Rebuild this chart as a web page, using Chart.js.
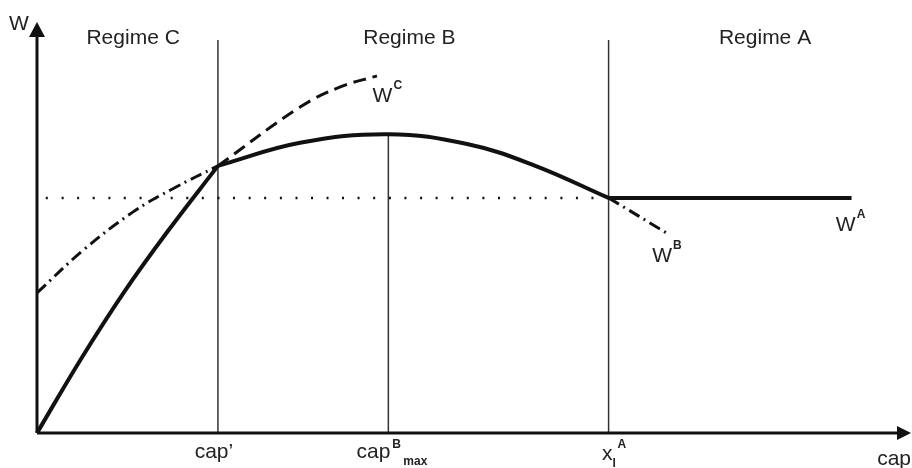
<!DOCTYPE html>
<html>
<head>
<meta charset="utf-8">
<script src="https://cdn.jsdelivr.net/npm/chart.js@4/dist/chart.umd.min.js"></script>
<style>
  body { margin: 0; background: #fff; }
  canvas { display: block; }
</style>
</head>
<body>
<canvas id="myChart" width="912" height="468"></canvas>
<script>
// Axis units: x runs 0..100 (cap), y runs 0..100 (W)
const capPrime = 20.7;
const capBmax = 40.2;
const xlA = 65.4;
const regimeTop = 95.6;
const flatLevel = 57.2;

// Solid envelope W, piece by piece
const wCx = [0, 5, 10, 15, 20.7];
const wCy = [0, 17.9, 34.4, 49.2, 65.0];
const wBx = [20.7, 30.1, 40.2, 49.2, 56.8, 65.4];
const wBy = [65.0, 70.6, 72.7, 70.3, 65.2, 57.2];
const wAx = [65.4, 93.2];
const wAy = [57.2, 57.2];

// Dashed W^C continuation
const wcx = [20.7, 30.1, 34.7, 38.9];
const wcy = [65.0, 79.3, 84.2, 86.9];

// Dash-dot W^B, left and right parts
const wbLx = [0, 5.3, 11.0, 15.6, 20.7];
const wbLy = [34.1, 44.5, 53.8, 59.5, 65.0];
const wbRx = [65.4, 72.4];
const wbRy = [57.2, 48.2];

// Text labels
const regimeNames = ['Regime C', 'Regime B', 'Regime A'];
const regimeLabelX = [11.0, 42.6, 83.3];

function pts(xs, ys) {
    return xs.map((x, i) => ({ x: x, y: ys[i] }));
}

function line(data, width, dash, color) {
    return {
        data: data,
        showLine: true,
        borderColor: color || '#111',
        borderWidth: width,
        borderDash: dash || [],
        pointRadius: 0,
        tension: 0.4,
        clip: false,
        fill: false
    };
}

const TEXT = '#222';
const FONT = '"Liberation Sans", Arial, sans-serif';

// Draws the arrow axes and all the text
const decorations = {
    id: 'decorations',
    afterDatasetsDraw(chart) {
        const ctx = chart.ctx;
        const xs = chart.scales.x;
        const ys = chart.scales.y;
        const x0 = xs.getPixelForValue(0);
        const y0 = ys.getPixelForValue(0);
        const right = chart.chartArea.right;
        const top = chart.chartArea.top;

        ctx.save();
        ctx.strokeStyle = '#111';
        ctx.fillStyle = '#111';
        ctx.lineWidth = 3;
        ctx.beginPath();
        ctx.moveTo(x0, y0);
        ctx.lineTo(x0, top + 10);
        ctx.moveTo(x0, y0);
        ctx.lineTo(right - 10, y0);
        ctx.stroke();
        // arrow heads
        ctx.beginPath();
        ctx.moveTo(x0, top);
        ctx.lineTo(x0 - 8, top + 15);
        ctx.lineTo(x0 + 8, top + 15);
        ctx.closePath();
        ctx.fill();
        ctx.beginPath();
        ctx.moveTo(right, y0);
        ctx.lineTo(right - 14, y0 - 7);
        ctx.lineTo(right - 14, y0 + 7);
        ctx.closePath();
        ctx.fill();

        ctx.fillStyle = TEXT;
        ctx.textBaseline = 'alphabetic';
        ctx.font = '21px ' + FONT;

        // regime titles
        ctx.textAlign = 'center';
        regimeNames.forEach((name, i) => {
            ctx.fillText(name, xs.getPixelForValue(regimeLabelX[i]), 44);
        });

        // axis names
        ctx.textAlign = 'left';
        ctx.fillText('W', x0 - 28, top + 8);
        ctx.textAlign = 'right';
        ctx.fillText('cap', right, y0 + 32);

        // x tick labels
        ctx.textAlign = 'center';
        ctx.fillText('cap\u2019', xs.getPixelForValue(capPrime) - 4, y0 + 25);

        let px = xs.getPixelForValue(capBmax);
        ctx.textAlign = 'right';
        ctx.fillText('cap', px + 2, y0 + 25);
        ctx.textAlign = 'left';
        ctx.font = 'bold 12px ' + FONT;
        ctx.fillText('B', px + 4, y0 + 15);
        ctx.fillText('max', px + 15, y0 + 32);

        px = xs.getPixelForValue(xlA);
        ctx.font = '21px ' + FONT;
        ctx.textAlign = 'right';
        ctx.fillText('x', px + 4, y0 + 27);
        ctx.textAlign = 'left';
        ctx.font = 'bold 12px ' + FONT;
        ctx.fillText('l', px + 4, y0 + 34);
        ctx.fillText('A', px + 9, y0 + 15);

        // curve names
        const curveLabels = [['W', 'C', 38.4, 80.5], ['W', 'B', 70.4, 41.6], ['W', 'A', 91.4, 49.1]];
        curveLabels.forEach(l => {
            const lx = xs.getPixelForValue(l[2]);
            const ly = ys.getPixelForValue(l[3]);
            ctx.font = '21px ' + FONT;
            ctx.fillText(l[0], lx, ly);
            const w = ctx.measureText(l[0]).width;
            ctx.font = 'bold 12px ' + FONT;
            ctx.fillText(l[1], lx + w + 1, ly - 13);
        });
        ctx.restore();
    }
};

const ctx = document.getElementById('myChart').getContext('2d');
const myChart = new Chart(ctx, {
    type: 'scatter',
    data: {
        datasets: [
            line(pts(wCx, wCy), 4),
            line(pts(wBx, wBy), 4),
            line(pts(wAx, wAy), 4),
            line(pts(wcx, wcy), 3, [13, 7]),
            line(pts(wbLx, wbLy), 3, [12, 5, 2, 5]),
            line(pts(wbRx, wbRy), 3, [12, 5, 2, 5]),
            line(pts([1.0, xlA], [flatLevel, flatLevel]), 2.5, [2, 13.6]),
            line(pts([capPrime, capPrime], [0, regimeTop]), 1.5, [], '#333'),
            line(pts([capBmax, capBmax], [0, 72.7]), 1.5, [], '#333'),
            line(pts([xlA, xlA], [0, regimeTop]), 1.5, [], '#333')
        ]
    },
    options: {
        responsive: false,
        animation: false,
        devicePixelRatio: 1,
        layout: { padding: { left: 37, right: 1, top: 22, bottom: 35 } },
        plugins: { legend: { display: false }, tooltip: { enabled: false } },
        scales: {
            x: { type: 'linear', min: 0, max: 100, display: false },
            y: { type: 'linear', min: 0, max: 100, display: false }
        }
    },
    plugins: [decorations]
});
</script>
</body>
</html>
